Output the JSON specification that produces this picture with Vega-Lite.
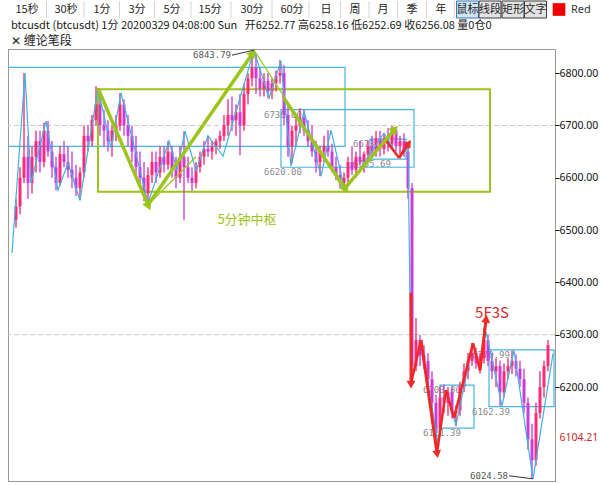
{
  "$schema": "https://vega.github.io/schema/vega-lite/v6.json",
  "padding": {"left": 7, "top": 0, "right": 0, "bottom": 0},
  "spacing": 0,
  "background": "white",
  "config": {"font": "Noto Sans CJK SC", "concat": {"spacing": 0}},
  "datasets": {
    "toolbar": [
      {"item": "15秒", "n": 0}, {"item": "30秒", "n": 1}, {"item": "1分", "n": 2}, {"item": "3分", "n": 3},
      {"item": "5分", "n": 4}, {"item": "15分", "n": 5}, {"item": "30分", "n": 6}, {"item": "60分", "n": 7},
      {"item": "日", "n": 8}, {"item": "周", "n": 9}, {"item": "月", "n": 10}, {"item": "季", "n": 11},
      {"item": "年", "n": 12}, {"item": "鼠标", "n": 13}, {"item": "线段", "n": 14}, {"item": "矩形", "n": 15},
      {"item": "文字", "n": 16}, {"item": "Red", "n": 17}
    ],
    "bars": [
      {"t": 2, "o": 6520, "h": 6560, "l": 6505, "c": 6545},
      {"t": 3, "o": 6545, "h": 6620, "l": 6530, "c": 6600},
      {"t": 4, "o": 6600, "h": 6800, "l": 6590, "c": 6640},
      {"t": 5, "o": 6640, "h": 6680, "l": 6560, "c": 6590},
      {"t": 6, "o": 6590, "h": 6660, "l": 6570, "c": 6640},
      {"t": 7, "o": 6640, "h": 6690, "l": 6610, "c": 6670},
      {"t": 8, "o": 6670, "h": 6690, "l": 6610, "c": 6630},
      {"t": 9, "o": 6630, "h": 6705, "l": 6620, "c": 6690},
      {"t": 10, "o": 6690, "h": 6708, "l": 6640, "c": 6650},
      {"t": 11, "o": 6650, "h": 6670, "l": 6600, "c": 6620},
      {"t": 12, "o": 6620, "h": 6640, "l": 6576, "c": 6590},
      {"t": 13, "o": 6590, "h": 6660, "l": 6585, "c": 6645},
      {"t": 14, "o": 6645, "h": 6670, "l": 6620, "c": 6630},
      {"t": 15, "o": 6630, "h": 6660, "l": 6600, "c": 6615},
      {"t": 16, "o": 6615, "h": 6650, "l": 6580, "c": 6600},
      {"t": 17, "o": 6600, "h": 6625, "l": 6565, "c": 6580},
      {"t": 18, "o": 6580, "h": 6620, "l": 6557, "c": 6610},
      {"t": 19, "o": 6610, "h": 6700, "l": 6600, "c": 6680},
      {"t": 20, "o": 6680, "h": 6700, "l": 6650, "c": 6670},
      {"t": 21, "o": 6670, "h": 6720, "l": 6660, "c": 6710},
      {"t": 22, "o": 6710, "h": 6775, "l": 6700, "c": 6740},
      {"t": 23, "o": 6740, "h": 6765, "l": 6680, "c": 6700},
      {"t": 24, "o": 6700, "h": 6730, "l": 6660, "c": 6690},
      {"t": 25, "o": 6690, "h": 6710, "l": 6650, "c": 6670},
      {"t": 26, "o": 6670, "h": 6700, "l": 6640, "c": 6690},
      {"t": 27, "o": 6690, "h": 6720, "l": 6670, "c": 6700},
      {"t": 28, "o": 6700, "h": 6762, "l": 6690, "c": 6740},
      {"t": 29, "o": 6740, "h": 6750, "l": 6680, "c": 6700},
      {"t": 30, "o": 6700, "h": 6720, "l": 6660, "c": 6680},
      {"t": 31, "o": 6680, "h": 6700, "l": 6630, "c": 6650},
      {"t": 32, "o": 6650, "h": 6680, "l": 6600, "c": 6620},
      {"t": 33, "o": 6620, "h": 6650, "l": 6580, "c": 6600},
      {"t": 34, "o": 6600, "h": 6630, "l": 6555, "c": 6570},
      {"t": 35, "o": 6570, "h": 6620, "l": 6552, "c": 6605},
      {"t": 36, "o": 6605, "h": 6650, "l": 6590, "c": 6630},
      {"t": 37, "o": 6630, "h": 6650, "l": 6590, "c": 6610},
      {"t": 38, "o": 6610, "h": 6660, "l": 6600, "c": 6640},
      {"t": 39, "o": 6640, "h": 6660, "l": 6610, "c": 6625},
      {"t": 40, "o": 6625, "h": 6670, "l": 6615, "c": 6650},
      {"t": 41, "o": 6650, "h": 6660, "l": 6600, "c": 6615},
      {"t": 42, "o": 6615, "h": 6640, "l": 6580, "c": 6600},
      {"t": 43, "o": 6600, "h": 6660, "l": 6590, "c": 6640},
      {"t": 44, "o": 6640, "h": 6689, "l": 6519, "c": 6620},
      {"t": 45, "o": 6620, "h": 6640, "l": 6590, "c": 6600},
      {"t": 46, "o": 6600, "h": 6620, "l": 6575, "c": 6590},
      {"t": 47, "o": 6590, "h": 6630, "l": 6580, "c": 6620},
      {"t": 48, "o": 6620, "h": 6650, "l": 6610, "c": 6640},
      {"t": 49, "o": 6640, "h": 6670, "l": 6625, "c": 6655},
      {"t": 50, "o": 6655, "h": 6680, "l": 6640, "c": 6650},
      {"t": 51, "o": 6650, "h": 6670, "l": 6635, "c": 6660},
      {"t": 52, "o": 6660, "h": 6675, "l": 6645, "c": 6670},
      {"t": 53, "o": 6670, "h": 6690, "l": 6655, "c": 6680},
      {"t": 54, "o": 6680, "h": 6720, "l": 6670, "c": 6700},
      {"t": 55, "o": 6700, "h": 6750, "l": 6680, "c": 6720},
      {"t": 56, "o": 6720, "h": 6755, "l": 6690, "c": 6710},
      {"t": 57, "o": 6710, "h": 6740, "l": 6680, "c": 6725},
      {"t": 58, "o": 6725, "h": 6760, "l": 6643, "c": 6700},
      {"t": 59, "o": 6700, "h": 6780, "l": 6690, "c": 6760},
      {"t": 60, "o": 6760, "h": 6800, "l": 6740, "c": 6790},
      {"t": 61, "o": 6790, "h": 6843.79, "l": 6775, "c": 6810},
      {"t": 62, "o": 6810, "h": 6835, "l": 6760, "c": 6790},
      {"t": 63, "o": 6790, "h": 6810, "l": 6755, "c": 6770},
      {"t": 64, "o": 6770, "h": 6800, "l": 6755, "c": 6785},
      {"t": 65, "o": 6785, "h": 6800, "l": 6752, "c": 6765},
      {"t": 66, "o": 6765, "h": 6790, "l": 6750, "c": 6780},
      {"t": 67, "o": 6780, "h": 6805, "l": 6765, "c": 6795},
      {"t": 68, "o": 6795, "h": 6825, "l": 6780, "c": 6800},
      {"t": 69, "o": 6800, "h": 6815, "l": 6700, "c": 6720},
      {"t": 70, "o": 6720, "h": 6740, "l": 6640, "c": 6660},
      {"t": 71, "o": 6660, "h": 6700, "l": 6628, "c": 6690},
      {"t": 72, "o": 6690, "h": 6720, "l": 6660, "c": 6700},
      {"t": 73, "o": 6700, "h": 6733, "l": 6685, "c": 6715},
      {"t": 74, "o": 6715, "h": 6730, "l": 6680, "c": 6690},
      {"t": 75, "o": 6690, "h": 6710, "l": 6660, "c": 6670},
      {"t": 76, "o": 6670, "h": 6700, "l": 6640, "c": 6650},
      {"t": 77, "o": 6650, "h": 6670, "l": 6610, "c": 6630},
      {"t": 78, "o": 6630, "h": 6660, "l": 6603, "c": 6650},
      {"t": 79, "o": 6650, "h": 6680, "l": 6630, "c": 6660},
      {"t": 80, "o": 6660, "h": 6691, "l": 6640, "c": 6650},
      {"t": 81, "o": 6650, "h": 6665, "l": 6610, "c": 6620},
      {"t": 82, "o": 6620, "h": 6640, "l": 6595, "c": 6605},
      {"t": 83, "o": 6605, "h": 6625, "l": 6580, "c": 6590},
      {"t": 84, "o": 6590, "h": 6610, "l": 6575, "c": 6600},
      {"t": 85, "o": 6600, "h": 6640, "l": 6590, "c": 6630},
      {"t": 86, "o": 6630, "h": 6660, "l": 6605, "c": 6615},
      {"t": 87, "o": 6615, "h": 6650, "l": 6600, "c": 6640},
      {"t": 88, "o": 6640, "h": 6670, "l": 6625, "c": 6630},
      {"t": 89, "o": 6630, "h": 6650, "l": 6610, "c": 6645},
      {"t": 90, "o": 6645, "h": 6670, "l": 6630, "c": 6660},
      {"t": 91, "o": 6660, "h": 6680, "l": 6640, "c": 6650},
      {"t": 92, "o": 6650, "h": 6690, "l": 6640, "c": 6675},
      {"t": 93, "o": 6675, "h": 6690, "l": 6640, "c": 6655},
      {"t": 94, "o": 6655, "h": 6685, "l": 6645, "c": 6670},
      {"t": 95, "o": 6670, "h": 6695, "l": 6650, "c": 6665},
      {"t": 96, "o": 6665, "h": 6699, "l": 6655, "c": 6690},
      {"t": 97, "o": 6690, "h": 6695, "l": 6650, "c": 6660},
      {"t": 98, "o": 6660, "h": 6680, "l": 6645, "c": 6670},
      {"t": 99, "o": 6670, "h": 6685, "l": 6640, "c": 6650},
      {"t": 100, "o": 6650, "h": 6660, "l": 6560, "c": 6580},
      {"t": 101, "o": 6580, "h": 6590, "l": 6211, "c": 6240},
      {"t": 102, "o": 6240, "h": 6332, "l": 6230, "c": 6290},
      {"t": 103, "o": 6290, "h": 6300, "l": 6240, "c": 6260},
      {"t": 104, "o": 6260, "h": 6280, "l": 6235, "c": 6250},
      {"t": 105, "o": 6250, "h": 6265, "l": 6200, "c": 6215},
      {"t": 106, "o": 6215, "h": 6230, "l": 6150, "c": 6170},
      {"t": 107, "o": 6170, "h": 6185, "l": 6093, "c": 6120},
      {"t": 108, "o": 6120, "h": 6200, "l": 6110, "c": 6180},
      {"t": 109, "o": 6180, "h": 6205, "l": 6150, "c": 6170},
      {"t": 110, "o": 6170, "h": 6200, "l": 6145, "c": 6190},
      {"t": 111, "o": 6190, "h": 6200, "l": 6140, "c": 6150},
      {"t": 112, "o": 6150, "h": 6165, "l": 6125, "c": 6155},
      {"t": 113, "o": 6155, "h": 6210, "l": 6145, "c": 6200},
      {"t": 114, "o": 6200, "h": 6245, "l": 6190, "c": 6230},
      {"t": 115, "o": 6230, "h": 6265, "l": 6215, "c": 6250},
      {"t": 116, "o": 6250, "h": 6284, "l": 6240, "c": 6265},
      {"t": 117, "o": 6265, "h": 6275, "l": 6235, "c": 6245},
      {"t": 118, "o": 6245, "h": 6265, "l": 6226, "c": 6255},
      {"t": 119, "o": 6255, "h": 6313, "l": 6245, "c": 6290},
      {"t": 120, "o": 6290, "h": 6300, "l": 6240, "c": 6250},
      {"t": 121, "o": 6250, "h": 6265, "l": 6215, "c": 6230},
      {"t": 122, "o": 6230, "h": 6255, "l": 6200, "c": 6240},
      {"t": 123, "o": 6240, "h": 6250, "l": 6164, "c": 6190},
      {"t": 124, "o": 6190, "h": 6245, "l": 6180, "c": 6230},
      {"t": 125, "o": 6230, "h": 6255, "l": 6215, "c": 6240},
      {"t": 126, "o": 6240, "h": 6270, "l": 6225, "c": 6250},
      {"t": 127, "o": 6250, "h": 6262, "l": 6220, "c": 6235},
      {"t": 128, "o": 6235, "h": 6250, "l": 6200, "c": 6215},
      {"t": 129, "o": 6215, "h": 6235, "l": 6150, "c": 6170},
      {"t": 130, "o": 6170, "h": 6180, "l": 6080, "c": 6100},
      {"t": 131, "o": 6100, "h": 6130, "l": 6024.58, "c": 6060},
      {"t": 132, "o": 6060, "h": 6170, "l": 6050, "c": 6150},
      {"t": 133, "o": 6150, "h": 6230, "l": 6140, "c": 6200},
      {"t": 134, "o": 6200, "h": 6250, "l": 6180, "c": 6240},
      {"t": 135, "o": 6240, "h": 6290, "l": 6230, "c": 6280}
    ],
    "bi": [
      {"t": 1, "p": 6456}, {"t": 4.25, "p": 6800}, {"t": 5.75, "p": 6590}, {"t": 9.5, "p": 6708},
      {"t": 12.5, "p": 6576}, {"t": 15, "p": 6628}, {"t": 18, "p": 6557}, {"t": 22.5, "p": 6771},
      {"t": 25.75, "p": 6657}, {"t": 28.25, "p": 6762}, {"t": 35, "p": 6552}, {"t": 40.25, "p": 6670},
      {"t": 42.25, "p": 6615}, {"t": 44.25, "p": 6689}, {"t": 47, "p": 6613}, {"t": 50, "p": 6680},
      {"t": 53.75, "p": 6641}, {"t": 61.5, "p": 6843.79}, {"t": 65.25, "p": 6752}, {"t": 68.25, "p": 6823},
      {"t": 70.75, "p": 6622}, {"t": 74, "p": 6727}, {"t": 78.25, "p": 6603}, {"t": 80.75, "p": 6691},
      {"t": 84.25, "p": 6575}, {"t": 94, "p": 6685}, {"t": 97.75, "p": 6638}, {"t": 100, "p": 6666},
      {"t": 100.75, "p": 6211}, {"t": 103.25, "p": 6287}, {"t": 107.5, "p": 6093}, {"t": 109.5, "p": 6194},
      {"t": 112, "p": 6127}, {"t": 116.25, "p": 6284}, {"t": 117.75, "p": 6236}, {"t": 119.5, "p": 6306},
      {"t": 123.5, "p": 6164}, {"t": 126.5, "p": 6270}, {"t": 131.25, "p": 6024.58}, {"t": 136.25, "p": 6264}
    ],
    "zhongshu": [
      {"level": "1分", "t0": -3, "t1": 84.25, "lo": 6660, "hi": 6811},
      {"level": "1分", "t0": 68.25, "t1": 101.5, "lo": 6620, "hi": 6730},
      {"level": "1分", "t0": 90.5, "t1": 99.5, "lo": 6635.69, "hi": 6673.81},
      {"level": "1分", "t0": 108, "t1": 116.5, "lo": 6121.39, "hi": 6203.8},
      {"level": "1分", "t0": 120.25, "t1": 136.5, "lo": 6162.39, "hi": 6270.99},
      {"level": "5分", "t0": 22.5, "t1": 120.5, "lo": 6573, "hi": 6769}
    ],
    "arrows": [
      {"kind": "线段", "t0": 22.5, "p0": 6771, "t1": 35, "p1": 6548},
      {"kind": "线段", "t0": 35, "p0": 6548, "t1": 61, "p1": 6836},
      {"kind": "线段", "t0": 69, "p0": 6752, "t1": 84.25, "p1": 6580},
      {"kind": "线段", "t0": 84.25, "p0": 6580, "t1": 96.5, "p1": 6691},
      {"kind": "笔", "t0": 100.75, "p0": 6380, "t1": 100.75, "p1": 6207},
      {"kind": "笔", "t0": 103.25, "p0": 6290, "t1": 107.25, "p1": 6074},
      {"kind": "笔", "t0": 118, "p0": 6232, "t1": 119.5, "p1": 6328},
      {"kind": "笔", "t0": 97.75, "p0": 6638, "t1": 100, "p1": 6664}
    ],
    "strokes": [
      {"kind": "线段", "t0": 61.5, "p0": 6843.79, "t1": 84.25, "p1": 6575},
      {"kind": "线段", "t0": 35, "p0": 6548, "t1": 47, "p1": 6640},
      {"kind": "笔", "t0": 100.75, "p0": 6207, "t1": 103.25, "p1": 6290},
      {"kind": "笔", "t0": 107.25, "p0": 6074, "t1": 109.5, "p1": 6194},
      {"kind": "笔", "t0": 109.5, "p0": 6194, "t1": 111.5, "p1": 6141},
      {"kind": "笔", "t0": 111.5, "p0": 6141, "t1": 116.25, "p1": 6284},
      {"kind": "笔", "t0": 116.25, "p0": 6284, "t1": 118, "p1": 6232},
      {"kind": "笔", "t0": 94, "p0": 6676, "t1": 97.75, "p1": 6638}
    ],
    "levels": [{"p": 6700}, {"p": 6300}]
  },
  "vconcat": [
    {
      "width": 593,
      "height": 17,
      "view": {"stroke": null},
      "data": {"name": "toolbar"},
      "layer": [
        {
          "transform": [{"filter": "datum.n <= 12"}, {"calculate": "datum.n + 0.5", "as": "edge"}],
          "mark": {"type": "rule", "color": "#d4d4d4"},
          "encoding": {
            "x": {"field": "edge", "type": "quantitative", "axis": null,
                  "scale": {"domain": [0, 1, 2, 3, 4, 5, 6, 7, 8, 9, 10, 11, 12, 13, 14, 15, 16, 17],
                            "range": [19, 58, 94, 129, 164, 202, 244, 284, 318, 347, 375, 404, 433, 459.5, 482, 505, 527.5, 551],
                            "nice": false, "zero": false}}
          }
        },
        {
          "transform": [{"filter": "datum.n >= 13 && datum.n <= 16"}],
          "mark": {"type": "rect", "width": 22, "strokeWidth": 1},
          "encoding": {
            "x": {"field": "n", "type": "quantitative", "axis": null},
            "fill": {"condition": {"test": "datum.item == '鼠标'", "value": "#cfe5f7"}, "value": "#e2e2e2"},
            "stroke": {"condition": {"test": "datum.item == '鼠标'", "value": "#3a78b5"}, "value": "#3c3c3c"}
          }
        },
        {
          "transform": [{"filter": "datum.n <= 16"}],
          "mark": {"type": "text", "font": "Noto Sans CJK SC", "fontSize": 11, "color": "#262626"},
          "encoding": {
            "x": {"field": "n", "type": "quantitative", "axis": null},
            "text": {"field": "item"}
          }
        },
        {
          "transform": [{"filter": "datum.n == 17"}],
          "mark": {"type": "square", "size": 160, "filled": true, "color": "#ee0000", "opacity": 1},
          "encoding": {"x": {"field": "n", "type": "quantitative", "axis": null}}
        },
        {
          "transform": [{"filter": "datum.n == 17"}],
          "mark": {"type": "text", "align": "left", "dx": 12, "font": "Noto Sans", "fontSize": 11, "color": "#333333"},
          "encoding": {
            "x": {"field": "n", "type": "quantitative", "axis": null},
            "text": {"field": "item"}
          }
        }
      ]
    },
    {
      "width": 547,
      "height": 432,
      "title": {
        "text": "btcusdt (btcusdt) 1分 20200329 04:08:00 Sun\u00a0\u00a0\u00a0开6252.77 高6258.16 低6252.69 收6256.08 量0仓0",
        "subtitle": "✕ 缠论笔段",
        "anchor": "start",
        "frame": "group",
        "font": "Noto Sans CJK SC",
        "fontSize": 11,
        "fontWeight": "normal",
        "color": "#1a1a1a",
        "subtitleFont": "Noto Sans CJK SC",
        "subtitleFontSize": 12,
        "subtitleColor": "#1a1a1a",
        "subtitlePadding": 5,
        "offset": 1,
        "dx": 3
      },
      "view": {"stroke": "#333333", "strokeDash": [1, 1]},
      "layer": [
        {
          "data": {"name": "levels"},
          "mark": {"type": "rule", "color": "#c8c8c8", "strokeDash": [5, 3]},
          "encoding": {
            "y": {"field": "p", "type": "quantitative",
                  "scale": {"domain": [6020.4, 6846], "nice": false, "zero": false},
                  "axis": {
                    "orient": "right", "title": null, "domain": false, "grid": false,
                    "values": [6104.21, 6200, 6300, 6400, 6500, 6600, 6700, 6800],
                    "format": ".2f", "tickSize": 4, "tickColor": "#000000",
                    "tickOpacity": {"condition": {"test": "datum.value == 6104.21", "value": 0}, "value": 1},
                    "labelColor": {"condition": {"test": "datum.value == 6104.21", "value": "#d02828"}, "value": "#111111"},
                    "labelFont": "Noto Sans", "labelFontSize": 10.5, "labelPadding": 0
                  }}
          }
        },
        {
          "data": {"name": "zhongshu"},
          "mark": {"type": "rect", "fill": null, "clip": true},
          "encoding": {
            "x": {"field": "t0", "type": "quantitative", "axis": null, "scale": {"domain": [0, 136.75], "nice": false, "zero": false}},
            "x2": {"field": "t1"},
            "y": {"field": "lo", "type": "quantitative", "title": null},
            "y2": {"field": "hi"},
            "stroke": {"field": "level", "type": "nominal", "legend": null,
                       "scale": {"domain": ["1分", "5分"], "range": ["#45b6e0", "#9cc41a"]}},
            "strokeWidth": {"condition": {"test": "datum.level == '5分'", "value": 2}, "value": 1.2}
          }
        },
        {
          "data": {"name": "zhongshu"},
          "transform": [{"filter": "datum.level == '1分' && datum.t0 >= 0"}],
          "mark": {"type": "text", "align": "left", "baseline": "top", "dx": -17, "dy": 1, "font": "DejaVu Sans Mono", "fontSize": 9, "color": "#8a8a8a"},
          "encoding": {
            "x": {"field": "t0", "type": "quantitative", "axis": null},
            "y": {"field": "hi", "type": "quantitative", "title": null},
            "text": {"field": "hi", "format": ".2f"}
          }
        },
        {
          "data": {"name": "zhongshu"},
          "transform": [{"filter": "datum.level == '1分' && datum.t0 >= 0"}],
          "mark": {"type": "text", "align": "left", "baseline": "top", "dx": -17, "dy": 1, "font": "DejaVu Sans Mono", "fontSize": 9, "color": "#8a8a8a"},
          "encoding": {
            "x": {"field": "t0", "type": "quantitative", "axis": null},
            "y": {"field": "lo", "type": "quantitative", "title": null},
            "text": {"field": "lo", "format": ".2f"}
          }
        },
        {
          "data": {"name": "bars"},
          "mark": {"type": "rule", "strokeWidth": 1.3},
          "encoding": {
            "x": {"field": "t", "type": "quantitative", "axis": null},
            "y": {"field": "l", "type": "quantitative", "title": null},
            "y2": {"field": "h"},
            "color": {"condition": {"test": "datum.c >= datum.o", "value": "#f0226e"}, "value": "#c238d4"}
          }
        },
        {
          "data": {"name": "bars"},
          "mark": {"type": "rule", "strokeWidth": 3},
          "encoding": {
            "x": {"field": "t", "type": "quantitative", "axis": null},
            "y": {"field": "o", "type": "quantitative", "title": null},
            "y2": {"field": "c"},
            "color": {"condition": {"test": "datum.c >= datum.o", "value": "#ff2a78"}, "value": "#cc3ad8"}
          }
        },
        {
          "data": {"name": "bi"},
          "mark": {"type": "line", "color": "#3fb0e4", "strokeWidth": 1.2},
          "encoding": {
            "x": {"field": "t", "type": "quantitative", "axis": null},
            "y": {"field": "p", "type": "quantitative", "title": null}
          }
        },
        {
          "data": {"name": "strokes"},
          "transform": [{"filter": "datum.kind == '线段'"}],
          "mark": {"type": "rule", "color": "#9cc41a", "strokeWidth": 1.2},
          "encoding": {
            "x": {"field": "t0", "type": "quantitative", "axis": null},
            "x2": {"field": "t1"},
            "y": {"field": "p0", "type": "quantitative", "title": null},
            "y2": {"field": "p1"}
          }
        },
        {
          "data": {"name": "strokes"},
          "transform": [{"filter": "datum.kind == '笔'"}],
          "mark": {"type": "rule", "color": "#f02828", "strokeWidth": 2.5},
          "encoding": {
            "x": {"field": "t0", "type": "quantitative", "axis": null},
            "x2": {"field": "t1"},
            "y": {"field": "p0", "type": "quantitative", "title": null},
            "y2": {"field": "p1"}
          }
        },
        {
          "data": {"name": "arrows"},
          "mark": {"type": "rule", "strokeCap": "butt"},
          "encoding": {
            "x": {"field": "t0", "type": "quantitative", "axis": null},
            "x2": {"field": "t1"},
            "y": {"field": "p0", "type": "quantitative", "title": null},
            "y2": {"field": "p1"},
            "color": {"condition": {"test": "datum.kind == '线段'", "value": "#9cc41a"}, "value": "#f02828"},
            "strokeWidth": {"condition": {"test": "datum.kind == '线段'", "value": 3.5}, "value": 3}
          }
        },
        {
          "data": {"name": "arrows"},
          "transform": [{"calculate": "atan2((datum.t1 - datum.t0) * 4, (datum.p1 - datum.p0) * 0.523) * 180 / PI", "as": "heading"}],
          "mark": {"type": "point", "shape": "triangle", "filled": true, "opacity": 1},
          "encoding": {
            "x": {"field": "t1", "type": "quantitative", "axis": null},
            "y": {"field": "p1", "type": "quantitative", "title": null},
            "angle": {"field": "heading", "type": "quantitative", "scale": null},
            "color": {"condition": {"test": "datum.kind == '线段'", "value": "#9cc41a"}, "value": "#f02828"},
            "size": {"condition": {"test": "datum.kind == '线段'", "value": 100}, "value": 80}
          }
        },
        {
          "data": {"values": [{"t": 61.5, "p": 6843.79}]},
          "mark": {"type": "rule", "color": "#333333", "x2Offset": -22, "y2Offset": 5},
          "encoding": {
            "x": {"field": "t", "type": "quantitative", "axis": null},
            "x2": {"field": "t"},
            "y": {"field": "p", "type": "quantitative", "title": null},
            "y2": {"field": "p"}
          }
        },
        {
          "data": {"values": [{"t": 61.5, "p": 6843.79}]},
          "mark": {"type": "text", "align": "right", "baseline": "middle", "dx": -23, "dy": 5, "font": "DejaVu Sans Mono", "fontSize": 9, "color": "#555555"},
          "encoding": {
            "x": {"field": "t", "type": "quantitative", "axis": null},
            "y": {"field": "p", "type": "quantitative", "title": null},
            "text": {"field": "p", "format": ".2f"}
          }
        },
        {
          "data": {"values": [{"t": 131.25, "p": 6024.58}]},
          "mark": {"type": "rule", "color": "#333333", "x2Offset": -24, "y2Offset": -3},
          "encoding": {
            "x": {"field": "t", "type": "quantitative", "axis": null},
            "x2": {"field": "t"},
            "y": {"field": "p", "type": "quantitative", "title": null},
            "y2": {"field": "p"}
          }
        },
        {
          "data": {"values": [{"t": 131.25, "p": 6024.58}]},
          "mark": {"type": "text", "align": "right", "baseline": "middle", "dx": -25, "dy": -3, "font": "DejaVu Sans Mono", "fontSize": 9, "color": "#555555"},
          "encoding": {
            "x": {"field": "t", "type": "quantitative", "axis": null},
            "y": {"field": "p", "type": "quantitative", "title": null},
            "text": {"field": "p", "format": ".2f"}
          }
        },
        {
          "data": {"values": [{"t": 59.75, "p": 6519, "note": "5分钟中枢"}, {"t": 121, "p": 6341, "note": "5F3S"}]},
          "mark": {"type": "text", "align": "center", "baseline": "middle"},
          "encoding": {
            "x": {"field": "t", "type": "quantitative", "axis": null},
            "y": {"field": "p", "type": "quantitative", "title": null},
            "text": {"field": "note"},
            "color": {"condition": {"test": "datum.note == '5F3S'", "value": "#d42a2a"}, "value": "#9cc41a"},
            "size": {"condition": {"test": "datum.note == '5F3S'", "value": 15}, "value": 13},
            "font": {"condition": {"test": "datum.note == '5F3S'", "value": "Noto Sans"}, "value": "Noto Sans CJK SC"}
          }
        }
      ]
    }
  ]
}
